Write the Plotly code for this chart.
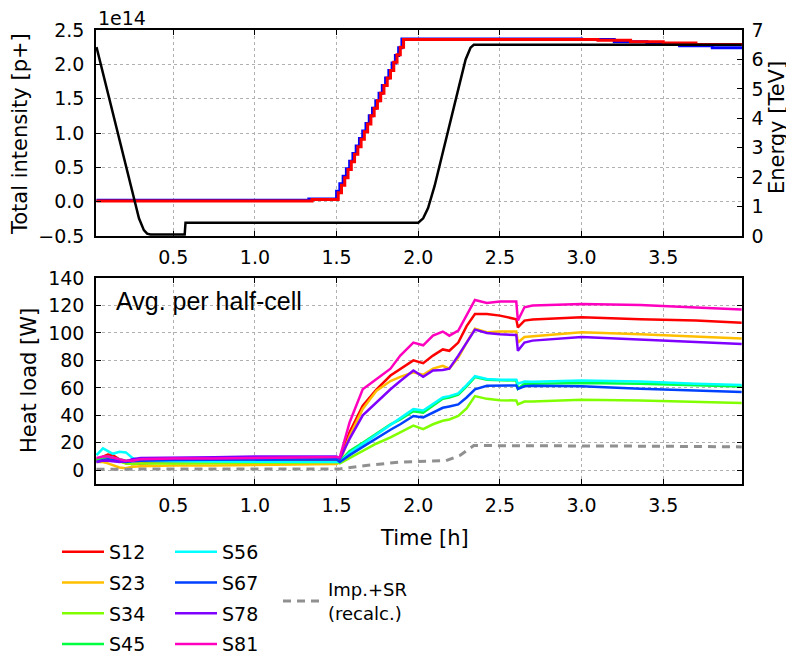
import plotly.graph_objects as go

# ---------------- data ----------------
# Top panel: total intensity (units of 1e14 p+) and beam energy (TeV)
t_b1 = [0.03, 1.33, 1.50, 1.52, 1.54, 1.56, 1.58, 1.60, 1.62, 1.64, 1.66, 1.68, 1.70,
        1.72, 1.74, 1.76, 1.78, 1.80, 1.82, 1.84, 1.86, 1.88, 1.90,
        3.00, 3.20, 3.40, 3.60, 3.80, 3.98]
int_b1 = [0.02, 0.04, 0.15, 0.26, 0.37, 0.48, 0.59, 0.70, 0.81, 0.92, 1.03, 1.14, 1.25,
          1.36, 1.47, 1.58, 1.69, 1.80, 1.91, 2.02, 2.13, 2.24, 2.37,
          2.36, 2.33, 2.30, 2.27, 2.24, 2.22]

t_b2 = [0.03, 1.35, 1.51, 1.53, 1.55, 1.57, 1.59, 1.61, 1.63, 1.65, 1.67, 1.69, 1.71,
        1.73, 1.75, 1.77, 1.79, 1.81, 1.83, 1.85, 1.87, 1.89, 1.91,
        3.10, 3.30, 3.50, 3.70, 3.98]
int_b2 = [0.01, 0.03, 0.13, 0.24, 0.35, 0.47, 0.58, 0.69, 0.80, 0.91, 1.02, 1.13, 1.25,
          1.36, 1.47, 1.58, 1.69, 1.80, 1.91, 2.03, 2.14, 2.25, 2.36,
          2.35, 2.33, 2.31, 2.29, 2.27]

t_energy = [0.03, 0.29, 0.32, 0.34, 0.36, 0.57, 0.575, 2.00, 2.03, 2.06, 2.10, 2.15,
            2.20, 2.25, 2.29, 2.32, 2.34, 3.98]
energy = [6.42, 0.6, 0.2, 0.08, 0.05, 0.05, 0.45, 0.45, 0.6, 0.95, 1.7, 2.8,
          3.95, 5.1, 6.0, 6.4, 6.5, 6.5]

# Bottom panel: heat load per half-cell (W)
t_hl = [0.03, 0.07, 0.10, 0.13, 0.17, 0.21, 0.25, 0.30, 0.50, 0.75, 1.00, 1.25, 1.50,
        1.52, 1.58, 1.66, 1.745, 1.83, 1.89, 1.97, 2.03, 2.09, 2.15, 2.19, 2.245,
        2.296, 2.347, 2.42, 2.50, 2.60, 2.61, 2.65, 2.70, 3.00, 3.36, 3.70, 3.98]

S12 = [7, 10, 11.5, 11, 8, 5, 4.5, 5, 6, 6.5, 7, 7, 7.5,
       8.8, 27.8, 47, 59, 69, 74, 80, 78, 83.5, 88, 87, 93,
       105, 113.8, 113.8, 112.6, 110, 104, 109, 109.7, 111.4, 110, 109, 107.5]
S23 = [6, 6, 5, 3.5, 2, 1.5, 2.5, 3, 3.5, 3.5, 4, 4, 4.5,
       6, 25, 44.7, 58, 65, 68, 71.4, 69.5, 74, 76, 74, 82,
       93, 103, 100.5, 101, 101, 93, 97, 97.5, 100.5, 99, 97.5, 96]
S34 = [7, 8.5, 9, 8, 6.5, 5, 4.5, 5, 5, 5.5, 5.5, 5.5, 6,
       5, 9, 14, 19.5, 24, 27.5, 32.5, 30, 33.5, 36, 37, 39.5,
       45, 54, 52, 51, 50.8, 48, 50, 50, 51.3, 50.8, 50, 49]
S45 = [8, 9.5, 10, 9, 8, 7, 7, 7.5, 8, 8, 8, 8.5, 8.5,
       6.5, 14, 20, 27, 33.5, 37, 43, 42, 47, 52, 53, 55,
       61, 67.8, 66, 65.5, 65.3, 59.3, 63, 63, 63.6, 63, 62, 61]
S56 = [11, 16, 14, 12, 13.5, 13, 9, 7, 6.5, 6.5, 6.5, 6, 6,
       6, 12.5, 19, 26, 33, 38, 44.5, 43.5, 48.4, 53, 54, 56,
       62, 68.5, 66.5, 66, 66, 63, 64.6, 64.5, 65.3, 64.6, 63, 62]
S67 = [6, 7.5, 8, 7.5, 7, 6, 6.5, 7, 7.5, 7.5, 8, 8, 8,
       6, 11, 17, 23.5, 29.5, 33.5, 39.5, 38.5, 42, 45.5, 46.5, 48,
       53, 59, 61.5, 61.7, 61.7, 59.3, 61.2, 61.5, 61.2, 59.3, 58, 57]
S78 = [6, 7, 7, 6.5, 6, 6.5, 8, 9, 9, 9.5, 10, 10, 10,
       8.4, 23, 40, 49.6, 59, 65, 72.6, 68, 72.6, 73, 74, 83.5,
       93, 102.4, 100, 99, 98.5, 87, 93, 94.4, 97, 95, 93.5, 92]
S81 = [9, 10, 10, 9, 8, 7, 7, 8, 8.5, 8.5, 9, 9, 9.5,
       9.6, 35, 59, 66.5, 74, 83.5, 93, 91, 98, 101, 98, 101.7,
       112.6, 124, 121.8, 122.8, 122.8, 109, 118.7, 120, 121, 120.4, 118.5, 117]

t_imp = [0.03, 0.5, 1.0, 1.50, 1.52, 1.68, 1.89, 2.17, 2.255, 2.34, 2.60, 3.0, 3.5, 3.98]
imp_sr = [0.8, 0.8, 0.8, 0.8, 1.0, 3.5, 6, 7, 10.8, 18, 18, 18, 17.5, 17]

sector_names = ["S12", "S23", "S34", "S45", "S56", "S67", "S78", "S81"]
sector_values = [S12, S23, S34, S45, S56, S67, S78, S81]
sector_colors = ["#ff0000", "#ffbf00", "#80ff00", "#00ff40",
                 "#00ffff", "#0040ff", "#8000ff", "#ff00bf"]

# ---------------- figure ----------------
W, H = 786, 654
ML, MR, MT, MB = 96, 44, 30, 170
ph = H - MT - MB
pw = W - ML - MR
top_dom = [(484 - 236) / ph, 1.0]
bot_dom = [0.0, (484 - 278) / ph]


def px_x(px):
    return (px - ML) / pw


def px_y(py):
    return (H - MB - py) / ph


FONT = "DejaVu Sans"
TICKF = dict(family=FONT, size=19, color="black")
TITLEF = dict(family=FONT, size=21, color="black")

fig = go.Figure()

fig.add_trace(go.Scatter(x=t_b1, y=int_b1, mode="lines", line=dict(color="#0000ff", width=3, shape="hv"),
                         xaxis="x", yaxis="y", showlegend=False))
fig.add_trace(go.Scatter(x=t_b2, y=int_b2, mode="lines", line=dict(color="#ff0000", width=3, shape="hv"),
                         xaxis="x", yaxis="y", showlegend=False))
fig.add_trace(go.Scatter(x=t_energy, y=energy, mode="lines", line=dict(color="black", width=2.5),
                         xaxis="x", yaxis="y2", showlegend=False))

for i, (name, vals, col) in enumerate(zip(sector_names, sector_values, sector_colors)):
    fig.add_trace(go.Scatter(x=t_hl, y=vals, mode="lines", name=name,
                             line=dict(color=col, width=2.5),
                             xaxis="x2", yaxis="y3",
                             legend="legend" if i < 4 else "legend2",
                             legendgroup=name))

fig.add_trace(go.Scatter(x=t_imp, y=imp_sr, mode="lines", name="Imp.+SR<br>(recalc.)",
                         line=dict(color="#909090", width=3, dash="8px,6px"),
                         xaxis="x2", yaxis="y3", legend="legend3"))

axis_common = dict(showline=True, linecolor="black", linewidth=1.5, ticks="inside",
                   ticklen=5, tickcolor="black", tickfont=TICKF, zeroline=False,
                   showgrid=True, gridcolor="#b0b0b0", griddash="dot", gridwidth=1,
                   automargin=False)

LEGF = dict(family=FONT, size=19, color="black")
xr = [0.027, 3.982]
fig.update_layout(
    width=W, height=H,
    margin=dict(l=ML, r=MR, t=MT, b=MB, autoexpand=False),
    paper_bgcolor="white", plot_bgcolor="white",
    font=dict(family=FONT, color="black"),
    xaxis=dict(domain=[0, 1], anchor="y", range=xr, dtick=0.5, tick0=0, tickformat=".1f",
               mirror="ticks", ticklabelstandoff=3, **axis_common),
    yaxis=dict(domain=top_dom, anchor="x", range=[-0.5, 2.5], dtick=0.5, tick0=0,
               tickformat=".1f", mirror=True, ticklabelstandoff=6, **axis_common),
    yaxis2=dict(overlaying="y", side="right", anchor="x", range=[0, 7], dtick=1,
                showline=True, linecolor="black", linewidth=1.5, ticks="inside", ticklen=5,
                tickcolor="black", tickfont=TICKF, showgrid=False, zeroline=False,
                ticklabelstandoff=4, automargin=False),
    xaxis2=dict(domain=[0, 1], anchor="y3", range=xr, dtick=0.5, tick0=0, tickformat=".1f",
                mirror="ticks", ticklabelstandoff=3, **axis_common),
    yaxis3=dict(domain=bot_dom, anchor="x2", range=[-10, 140], dtick=20, tick0=0,
                mirror="ticks", ticklabelstandoff=6, **axis_common),
    legend=dict(xref="container", yref="container", x=57 / W, y=(H - 533) / H,
                xanchor="left", yanchor="top", bgcolor="rgba(0,0,0,0)",
                font=LEGF, tracegroupgap=3, itemwidth=42),
    legend2=dict(xref="container", yref="container", x=170 / W, y=(H - 533) / H,
                 xanchor="left", yanchor="top", bgcolor="rgba(0,0,0,0)",
                 font=LEGF, tracegroupgap=3, itemwidth=42),
    legend3=dict(xref="container", yref="container", x=278 / W, y=(H - 571) / H,
                 xanchor="left", yanchor="top", bgcolor="rgba(0,0,0,0)",
                 font=dict(family=FONT, size=18, color="black"), itemwidth=40),
    annotations=[
        dict(text="Total intensity [p+]", xref="paper", yref="paper", x=px_x(20), y=px_y(134),
             xanchor="center", yanchor="middle", textangle=-90, showarrow=False, font=TITLEF),
        dict(text="Energy [TeV]", xref="paper", yref="paper", x=px_x(777), y=px_y(128),
             xanchor="center", yanchor="middle", textangle=-90, showarrow=False, font=TITLEF),
        dict(text="Heat load [W]", xref="paper", yref="paper", x=px_x(29), y=px_y(381),
             xanchor="center", yanchor="middle", textangle=-90, showarrow=False, font=TITLEF),
        dict(text="Time [h]", xref="paper", yref="paper", x=px_x(424), y=px_y(538),
             xanchor="center", yanchor="middle", showarrow=False, font=TITLEF),
        dict(text="1e14", xref="paper", yref="paper", x=0, y=px_y(18), xanchor="left",
             yanchor="middle", showarrow=False, font=dict(family=FONT, size=19, color="black")),
        dict(text="Avg. per half-cell", xref="paper", yref="paper", x=px_x(114),
             y=px_y(301), xanchor="left", yanchor="middle", showarrow=False,
             font=dict(family="Liberation Sans, Arial", size=25, color="black")),
        dict(text="Arcs", xref="paper", yref="paper", x=px_x(515),
             y=px_y(6), xanchor="center", yanchor="bottom", showarrow=False,
             font=dict(family=FONT, size=21, color="black")),
    ],
)

# remove the default 8px page margin so the figure fills the window exactly
fig.write_html("out.html", config={"displayModeBar": False},
               post_script="document.body.style.margin='0';")
